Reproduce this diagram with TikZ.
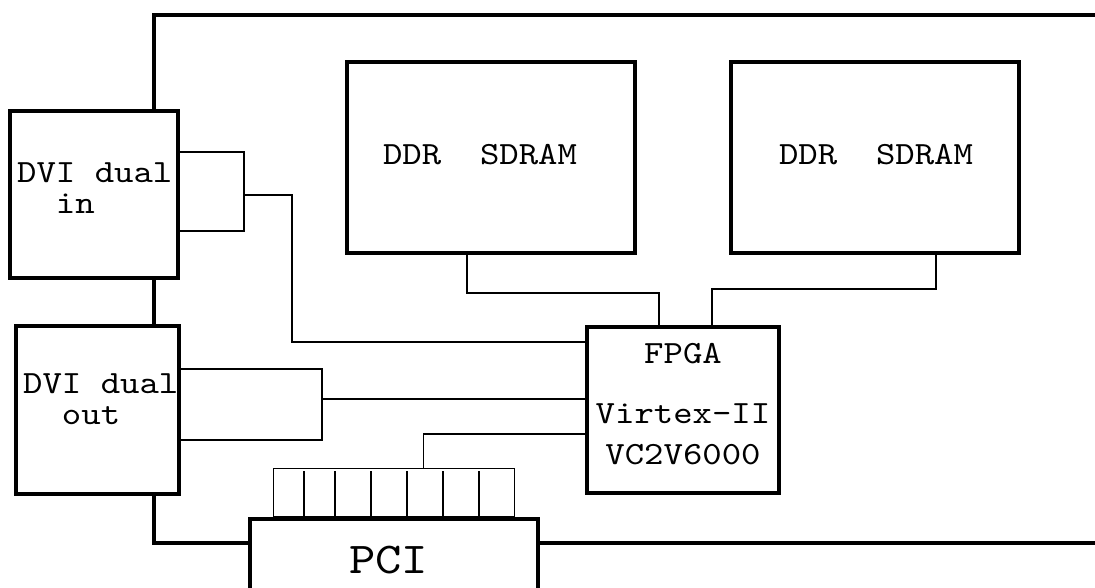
\documentclass[tikz,border=0pt]{standalone}
\usepackage{fontspec}
\usepackage{tikz}
\usetikzlibrary{calc}
\newfontfamily\boardfont{lmmono10-regular.otf}[FakeStretch=1.14]

\tikzset{
  chip/.style={draw, line width=4pt, inner sep=0pt},
  chiptext/.style={inner sep=0pt, anchor=base,
    font=\boardfont\fontsize{32.4}{31}\selectfont},
  wire/.style={line width=1.3pt},
  board/.style={line width=4pt},
}

\begin{document}
\begin{tikzpicture}[x=1pt, y=-1pt]
  \fill[white] (0,0) rectangle (1095,588);
  \useasboundingbox (0,0) rectangle (1095,588);

  % Chips on the board
  \node[chip, minimum width=168pt, minimum height=167pt] (dviin) at (94,194.5) {};
  \node[chip, minimum width=163pt, minimum height=168pt] (dviout) at (97.5,410) {};
  \node[chip, minimum width=288pt, minimum height=191pt] (ddrA) at (491,157.5) {};
  \node[chip, minimum width=288pt, minimum height=191pt] (ddrB) at (875,157.5) {};
  \node[chip, minimum width=192pt, minimum height=166pt] (fpga) at (683,410) {};
  \node[chip, minimum width=288pt, minimum height=82pt] (pci) at (394,560) {};

  % Labels (base = last line)
  \node[chiptext, anchor=base west, align=left] (dviinlbl) at (17,214)
    {DVI dual\\\phantom{xx}in};
  \node[chiptext, anchor=base west, align=left] (dvioutlbl) at (23,424)
    {DVI dual\\\phantom{xx}out};
  \node[chiptext] (ddrAlbl) at (480,165) {DDR\ \ SDRAM};
  \node[chiptext] (ddrBlbl) at (876,165) {DDR\ \ SDRAM};
  \node[chiptext, align=center] (fpgalbl) at (683,464)
    {FPGA\\[29pt]Virtex-II\\[10pt]VC2V6000};
  \node[chiptext, font=\boardfont\fontsize{44}{44}\selectfont] (pcilbl)
    at (388.5,573) {PCI};

  % PCI contacts
  \node[draw, wire, inner sep=0pt, minimum width=241pt, minimum height=48pt,
    anchor=south] (pins) at (pci.north) {};
  \foreach \x in {304,335,371,407,443,479}
    \draw[wire] (\x,471) -- (\x,519);

  % Board outline
  \coordinate (brdTL) at (154,15);
  \coordinate (brdTR) at (1095,15);
  \coordinate (brdBL) at (154,543);
  \coordinate (brdBR) at (1095,543);
  \draw[board] (brdTR) -- (brdTL) -- (brdTL |- dviin.north);
  \draw[board] (brdTL |- dviin.south) -- (brdTL |- dviout.north);
  \draw[board] (brdTL |- dviout.south) -- (brdBL) -- (brdBL -| pci.west);
  \draw[board] (brdBR -| pci.east) -- (brdBR);

  % DVI in to FPGA
  \coordinate (inbus) at (244,195);
  \draw[wire] ([yshift=42.5pt]dviin.east) -| (inbus) |- ([yshift=-36.5pt]dviin.east);
  \draw[wire] (inbus) -| (292,342) -- (292,342 -| fpga.west);

  % FPGA to DVI out
  \coordinate (outbus) at (322,399);
  \draw[wire] ([yshift=41pt]dviout.east) -| (outbus) |- ([yshift=-30pt]dviout.east);
  \draw[wire] (outbus) -- (outbus -| fpga.west);

  % FPGA to PCI
  \draw[wire] ([yshift=-24pt]fpga.west) -| ([xshift=29.5pt]pins.north);

  % Memory buses
  \draw[wire] ([xshift=-24pt]ddrA.south) -- ++(0,38) -| ([xshift=-24pt]fpga.north);
  \draw[wire] ([xshift=29pt]fpga.north) -- ++(0,-36) -| ([xshift=61pt]ddrB.south);
\end{tikzpicture}
\end{document}
